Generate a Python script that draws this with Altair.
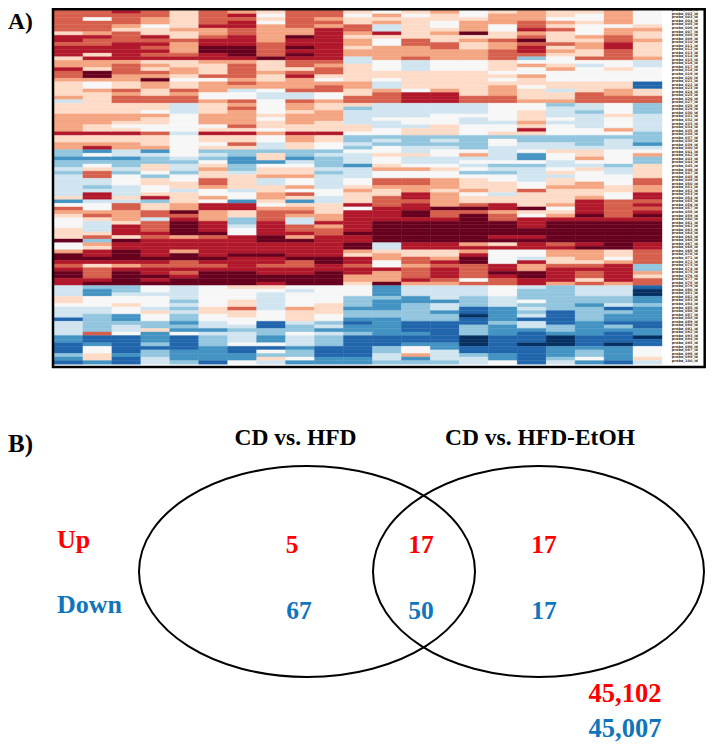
import sys
import altair as alt
import pandas as pd

# Heatmap columns, read top to bottom: level or level x run length (0 darkest red ... a darkest blue)
col_01 = "3 2x6 4 1x2 2 1x3 4 3x2 1 2x2 3 4x4 3 6 4x3 3x5 1 4x2 3x2 7x2 8 7x2 6 7 6x3 6x3 4 8 5 2 3 4 5x3 4x3 0 5x2 3 0x2 1 2 1 0x2 1x2 6x3 4x2 5 6x3 9 6x4 8x2 9x3 7 8 9"
col_02 = "3 2x2 5 2x3 3 1 2x2 1x2 4 1 3x2 4 0x2 3 5x2 3 4x6 3x3 4x2 1 4x2 3 1 8 5 8 7 5 4 2x2 6x2 7 6 1x2 6 5x2 3 2 4 6x3 4 2 7 3 4 1x2 0 1 4 2x3 1 0 7 8x2 5x3 6x2 7x5 2 9x2 8 5x2 4x2 8"
col_03 = "3 1 2x3 3 4 2x3 1x5 3 2x3 3x2 4x2 2 3 2x2 4x3 3x2 4 5 4 1 4x2 3x2 6x2 8 7x2 6 7 5x3 6x3 4 6 2x2 3x3 4 1x3 4 0 1x2 0x3 1 3 1 0x4 7x2 6 5x2 4 5x2 8x2 7 6x2 5 9x5 8 9x2"
col_04 = "3 2x2 3x2 5 4x2 1 2 1 2 1 2 1 4 3 4 2 3 0 3x2 4x2 2x2 4x2 5 3 4x2 5x2 2 4x3 3 8 6 7x2 4x2 5 7 4x2 5x2 4 1 7 4x2 2x2 6 2x3 1 2 1x5 0 1 2 1x2 0 1 0 5x2 6 5x3 6 4 5x2 7x2 4 8x3 7 9 7x2 6x2"
col_05 = "3 4x5 3 4x2 2 3x3 2 1 4x2 3x2 4 5 4x2 2 3 2x2 6x3 5x5 6 5x6 6 7 6x2 7 5x2 4 4 6 4x3 3x2 0 2 1 0x4 3 1x3 3 0x2 2x2 1 2 1 0x2 6x4 7 6 7 6 7x2 8 7 8 5 9x4 8x3 7"
col_06 = "2x5 1 3x2 2 1x2 0x2 1x2 3 4x3 2 5 3x3 5x2 3 4x3 3x3 5 4 1 4x2 5 4 7 6 7 5 4 3 4x2 2x2 3 5x2 3 5 1x2 3x3 1x3 0 2 1x5 0 1 2 1 0x4 5x6 4x2 5x2 6x2 8 6 7x3 8x4 9"
col_07 = "0 3 1 2 1x2 2x2 1x3 0x3 1 3 2x4 3 2 3 6 5x2 2 3 2 3x4 2 4 1 4x2 2 4 7x2 8x2 7x2 6 4x3 4 6 5x2 8 1x2 4x2 7x2 6 5x2 1x5 0 1x4 0x4 4 5x3 4x2 2 4x2 5x2 6 7 6x3 5 9x2 8x2 5"
col_08 = "4x2 5 4 5 3x5 2x4 0 4x3 3 4x2 3x2 5 6x2 5x4 4 5 4x2 5 3 5x2 6x2 7 4x2 8 5 4x2 3 6x2 4x2 3x2 4 5 3 2x3 1x4 0x2 1x3 0 1x2 2 1x2 0x2 1 4 5 6x5 5x3 9x2 7x2 8x2 5 9 5 7 4 6"
col_09 = "2x6 3x2 0 1x2 0 1 0 1 2x2 4 2 1 3x3 2 6x2 2 3x2 4 3x3 4x2 1 3x2 4x2 7x2 8 6 5 4x2 3 5x2 3 5 2 4 8 4 3 2 3 6x2 2x2 1 3 0 1x4 0 2x2 1x2 0x3 5 6 5x4 3 4x3 6 7x2 5 6x3 8 7x2 5 8"
col_10 = "2x3 3 2 3 1x9 2 3 2x2 4 5 3 2x2 5x2 3 4x2 3x3 4x3 1 4x2 5x2 7 6 7x3 6 7 6x3 6 5x2 6x2 4x3 3x2 1 3 2x2 1x6 0x2 1x2 0x4 5x5 4x3 5x2 7 6 8 6 7x3 9x3 8x2"
col_11 = "4x2 5 4x2 2x2 3 4 3x2 4 3x2 6x2 4x5 3x2 4x2 2x2 4 7 6x4 4x2 5 7x2 6 7 5 6x3 8 6x3 5x2 4 3 4x3 1 5 1x6 0 1x2 0x2 3 4 1x2 2 1x2 3x2 4 5x3 7x3 8 7x2 8 9 8x2 7 9x6 8x2"
col_12 = "5x2 3 4 3 6x2 1 4 5x2 3x4 5x3 4x2 5 6x2 3 2x3 6x4 5 6x2 5x2 7 6 7 5x2 4 5x2 4 3 5x2 2x2 3 4x2 2x3 1x4 0x6 6x2 4 3x2 5x2 1 3x3 0 8x3 7 8x3 7x2 8x5 9x3 7x2 6x2 7"
col_13 = "4x2 5 4x6 2x2 3x3 2 6x3 4x5 5 1x3 6x4 5x2 6 4x2 7x3 6x2 4 6x2 5 3 5x2 2x2 3x2 1x2 2 1x2 0x2 1 0x6 1x2 4x2 2x2 3 2x3 1 3 6x3 8x2 7x5 9x3 8 9x2 8 5x2 3 8 7"
col_14 = "4 3 4x2 5x2 4 3 4x2 2x2 3x3 5x3 4x5 3 1x3 6x3 5x3 4x3 7 6 7 6 5x2 6x2 5 4 5x2 3x2 3 4 3x4 0 2x2 1 0x6 1x2 4x2 3 1 2 1x3 2 3 6x4 8 6x2 8 7x2 9x6 8x2 6x3 7"
col_15 = "4 5x2 4 3x3 0 4 3 4x2 3x3 5x3 4x7 2x2 6x3 5 6x2 5x3 7x4 5 3 6 5 6 5 7 5 4x2 4 3 5 4x2 2 0 2 0x8 3 1 3 1 0x2 2x4 5 2 6x3 7x3 9x2 a 9x2 7x3 ax3 9x2 7 6x2"
col_16 = "4x2 3x3 5x2 4x2 2 3x2 2x3 4x3 5 4 5 4 3x3 2x2 5x5 6 5x2 4 7 5x2 6x4 5 7 6 7 5x2 4 4x2 6 4x2 1x2 3 2x2 0x4 1 0 4 1 5x4 1x2 0 1 2x2 5x3 6x3 8x4 7 8x3 9x5 8x2 5"
col_17 = "2 3x3 2x2 1 3 2 0 2 1x2 2 7 5 3 5x2 3 4x2 5 4x3 3 5x2 4x3 3 4 1 4 7x2 6x2 5 8x2 5 7 6x4 5 5 2 4x4 0 4 5 1x3 0x2 1 0 1x2 5x2 6 1 3x2 0x2 1x2 6 7x3 5 7 6 7 6 9 6x2 8 9x3 a 9x5"
col_18 = "4x3 5 3 4 2 4x3 2 4 3 4 5x2 4 3 5x3 4x2 6 4x2 3 7 6x3 5 6 5x3 7x2 6x2 4 5x2 6x2 5 4 6 4x2 3 4x4 3 5 4 3 1 0x6 2 1 3x2 4x2 2 1x4 3 7x7 9x4 7x2 8 ax3 8x3 7 6"
col_19 = "4x2 5x2 4 5x3 3 4 3x2 4x2 2 5 6 5x4 4x3 2x3 6x2 7 6x4 5x2 7x3 6 4x2 3 5 6 4 5x3 3 3 4x2 3 1x4 0 1 0x6 1 0 3x3 4 2 1 2x2 4 2 6x3 7x2 8 7x4 8x4 9x3 8 7x2 5 8"
col_20 = "3x5 5 3x2 2x2 1x2 2x3 5x2 4 5x3 4x2 3x2 2x2 5x3 4 5x3 3 5 7 6x3 5x4 7 6x2 5x3 4x2 5x2 2x5 1 0x8 4x2 5 3 1x5 3 6x3 7x2 6 9 7 8x2 9 7 8 9x3 a 8x4 9"
col_21 = "5x5 4 3 4x2 3 4x4 3 6x2 5x4 9x2 4x2 2x2 7x3 6x5 7x3 8 6 5 3 7x2 4x4 2x2 3x2 1x2 2 1 2 1 0 1 0x6 1x2 2x4 7x2 3 4 2x2 9 ax2 8x2 7 8x4 9x2 8x2 a 9x2 5x3 4 6"
columns = [col_01, col_02, col_03, col_04, col_05, col_06, col_07, col_08, col_09, col_10, col_11,
           col_12, col_13, col_14, col_15, col_16, col_17, col_18, col_19, col_20, col_21]

palette = ["#67001f", "#b2182b", "#d6604d", "#f4a582", "#fddbc7", "#f7f7f7",
           "#d1e5f0", "#92c5de", "#4393c3", "#2166ac", "#053061"]

set_names = ["CD vs. HFD", "CD vs. HFD-EtOH"]
direction_names = ["Up", "Down"]
counts_up = [5, 17, 17]
counts_down = [67, 50, 17]
totals = ["45,102", "45,007"]
panel_tags = ["A)", "B)"]
RED = "#ff0000"
BLUE = "#0f75bd"
SERIF = "Liberation Serif"


def expand(text):
    out = []
    for tok in text.split():
        if "x" in tok:
            lev, n = tok.split("x")
            out += [int(lev, 16)] * int(n)
        else:
            out.append(int(tok, 16))
    return out


levels = [expand(c) for c in columns]
bad = [(i + 1, len(c)) for i, c in enumerate(levels) if len(c) != 100]
if bad:
    sys.exit(f"bad column lengths: {bad}")

records = []
for c, col in enumerate(levels):
    for r, lev in enumerate(col):
        records.append({"c": c, "c2": c + 1, "r": r, "r2": r + 1, "level": lev})
heat_df = pd.DataFrame(records)

row_labels = [f"probe_{r + 1:03d}_id" for r in range(100)]
label_df = pd.DataFrame({"r": [1.0 + r * 0.99 for r in range(100)], "label": row_labels, "x": [21.34] * 100})

OFF = 8  # page margin: picture coordinates minus this give chart coordinates
xs = alt.Scale(domain=[0, 21], range=[54 - OFF, 662 - OFF], nice=False, zero=False)
ys = alt.Scale(domain=[0, 100], range=[6.7 - OFF, 364.2 - OFF], nice=False, zero=False)
lev_scale = alt.Scale(domain=list(range(11)), range=palette)

heat = alt.Chart(heat_df).mark_rect(strokeWidth=0.4).encode(
    x=alt.X("c:Q", scale=xs, axis=None),
    x2="c2:Q",
    y=alt.Y("r:Q", scale=ys, axis=None),
    y2="r2:Q",
    color=alt.Color("level:O", scale=lev_scale, legend=None),
    stroke=alt.Stroke("level:O", scale=lev_scale, legend=None),
)
labels = alt.Chart(label_df).mark_text(
    font="DejaVu Sans", fontSize=3.5, fontWeight="bold", align="left", baseline="middle", color="#333333"
).encode(
    x=alt.X("x:Q", scale=xs, axis=None),
    y=alt.Y("r:Q", scale=ys, axis=None),
    text="label:N",
)
frame = alt.Chart(pd.DataFrame({"f": [1]})).mark_rect(
    fill="transparent", stroke="black", strokeWidth=2.5
).encode(x=alt.value(53 - OFF), x2=alt.value(704.7 - OFF), y=alt.value(1.25), y2=alt.value(367 - OFF))


def txt(s, x, y, size, color="black", align="center"):
    return alt.Chart(pd.DataFrame({"t": [str(s)]})).mark_text(
        font=SERIF, fontWeight="bold", fontSize=size, color=color, align=align, baseline="alphabetic"
    ).encode(text="t:N", x=alt.value(x - OFF), y=alt.value(y - OFF))


def ellipse(name, cx, cy, w, h):
    k = h / w
    p = 0.552 * k
    shape = (f"M-1,0 C-1,{-p:.4f} -0.552,{-k:.4f} 0,{-k:.4f} C0.552,{-k:.4f} 1,{-p:.4f} 1,0 "
             f"C1,{p:.4f} 0.552,{k:.4f} 0,{k:.4f} C-0.552,{k:.4f} -1,{p:.4f} -1,0 Z")
    return alt.Chart(pd.DataFrame({"set": [name]})).mark_point(
        shape=shape, filled=False, stroke="black", strokeWidth=2, opacity=1
    ).encode(x=alt.value(cx - OFF), y=alt.value(cy - OFF), size=alt.value(w ** 2))


chart = alt.layer(
    heat, labels, frame,
    txt(panel_tags[0], 8, 29, 23.5, align="left"),
    ellipse(set_names[0], 307, 571.5, 336, 211),
    ellipse(set_names[1], 538.5, 571.5, 331, 211),
    txt(panel_tags[1], 8, 452, 25, align="left"),
    txt(set_names[0], 295.5, 445, 23.5),
    txt(set_names[1], 540, 445, 23.5),
    txt(direction_names[0], 57, 548, 26, RED, "left"),
    txt(direction_names[1], 57, 613, 26, BLUE, "left"),
    txt(counts_up[0], 292, 553, 25.5, RED),
    txt(counts_up[1], 421, 553, 25.5, RED),
    txt(counts_up[2], 544, 553, 25.5, RED),
    txt(counts_down[0], 299, 619, 25.5, BLUE),
    txt(counts_down[1], 421, 619, 25.5, BLUE),
    txt(counts_down[2], 544, 619, 25.5, BLUE),
    txt(totals[0], 625, 702, 26.5, RED),
    txt(totals[1], 625, 737, 26.5, BLUE),
).properties(
    width=698, height=735, padding=0,
    autosize=alt.AutoSizeParams(type="none"),
    view=alt.ViewConfig(stroke=None),
)
chart.save("out.html", embed_options={"renderer": "svg", "actions": False})
